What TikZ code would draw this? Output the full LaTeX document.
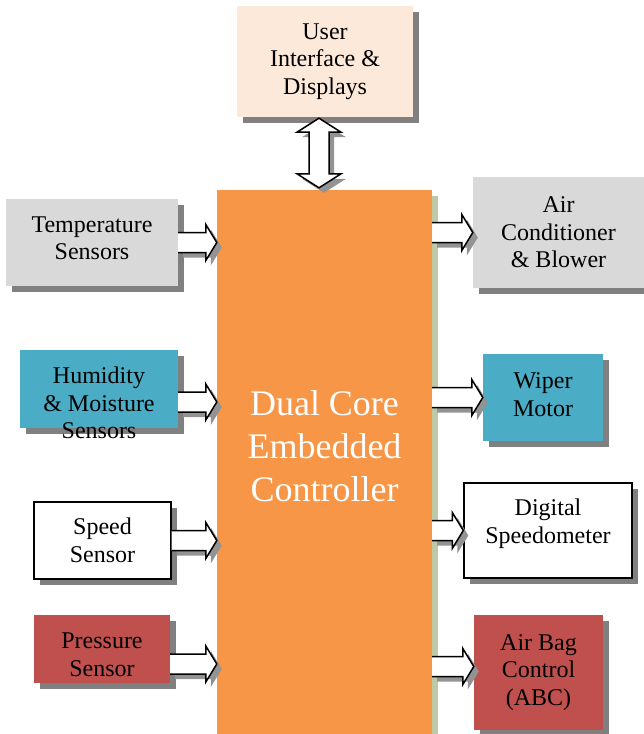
\documentclass[tikz,border=0pt]{standalone}
\usepackage{fontspec}
\setmainfont{Liberation Serif}
\newfontfamily\termsfont{Liberation Serif}
\usetikzlibrary{calc}
\definecolor{peach}{RGB}{253,233,217}
\definecolor{silver}{RGB}{217,217,217}
\definecolor{aqua}{RGB}{75,172,198}
\definecolor{rust}{RGB}{192,80,77}
\definecolor{tangerine}{RGB}{247,150,70}
\definecolor{sage}{RGB}{190,202,165}
\definecolor{shade}{RGB}{128,128,128}
\tikzset{
  offshadow/.style={preaction={fill=#1,transform canvas={shift={(5.5pt,-6pt)}}}},
  offshadow/.default=shade,
  blk/.style={fill=#1,inner sep=0pt,align=center,
    font=\termsfont\fontsize{24}{27.5}\selectfont,offshadow},
  blk/.default=white,
  outlined/.style={draw=black,line width=1.4pt},
  blktext/.style={align=center,font=\termsfont\fontsize{24}{27.5}\selectfont},
  % hollow block arrows, tip takes its height from the start point
  fat/.style={draw=black,line width=1.5pt,fill=white,
    preaction={fill=shade!85,transform canvas={shift={(5pt,-5pt)}}},
    to path={let \p1=(\tikztostart), \p2=(\tikztotarget) in
      (\x1,\y1+10pt) -- (\x2-11pt,\y1+10pt) -- (\x2-11pt,\y1+18pt) -- (\x2,\y1)
      -- (\x2-11pt,\y1-18pt) -- (\x2-11pt,\y1-10pt) -- (\x1,\y1-10pt)}},
  fatboth/.style={draw=black,line width=1.5pt,fill=white,
    preaction={fill=shade!85,transform canvas={shift={(5pt,-5pt)}}},
    to path={let \p1=(\tikztostart), \p2=(\tikztotarget) in
      (\x1,\y1) -- (\x1+22pt,\y1-14pt) -- (\x1+10pt,\y1-14pt) -- (\x1+10pt,\y2+14pt)
      -- (\x1+22pt,\y2+14pt) -- (\x1,\y2) -- (\x1-22pt,\y2+14pt) -- (\x1-10pt,\y2+14pt)
      -- (\x1-10pt,\y1-14pt) -- (\x1-22pt,\y1-14pt) -- cycle}},
}

\begin{document}
\begin{tikzpicture}[x=1pt,y=1pt]
  \useasboundingbox (0,0) rectangle (644,-734);
  % controller in the middle
  \node[fill=tangerine,inner sep=0pt,minimum width=215pt,minimum height=550pt,
    offshadow=sage] (ctrl) at (324.5,-465) {};
  \node[font=\termsfont\fontsize{36}{43}\selectfont,text=white,align=center] (ctrltext) at ([yshift=19pt]ctrl.center) {Dual Core\\Embedded\\Controller};
  \node[blk=peach,minimum width=176pt,minimum height=111pt] (ui) at (325,-61.5) {User\\Interface \&\\Displays};
  % inputs
  \node[blk=silver,minimum width=172pt,minimum height=87pt,
    label={[blktext,yshift=4pt]center:Temperature\\Sensors}] (temp) at (92,-242.5) {};
  \node[blk=aqua,minimum width=158pt,minimum height=78pt,
    label={[blktext,yshift=-14pt]center:Humidity\\\& Moisture\\Sensors}] (hum) at (99,-389) {};
  \node[blk,outlined,minimum width=137pt,minimum height=77pt] (speed) at (102.5,-540.5) {Speed\\Sensor};
  \node[blk=rust,minimum width=136pt,minimum height=68pt,
    label={[blktext,yshift=-6pt]center:Pressure\\Sensor}] (press) at (102,-649) {};
  % outputs
  \node[blk=silver,minimum width=171pt,minimum height=111pt] (aircon) at (558.5,-232.5) {Air\\Conditioner\\\& Blower};
  \node[blk=aqua,minimum width=120pt,minimum height=87pt,
    label={[blktext,yshift=3pt]center:Wiper\\Motor}] (wiper) at (543,-397.5) {};
  \node[blk,outlined,minimum width=168pt,minimum height=95pt,
    label={[blktext,yshift=7pt]center:Digital\\Speedometer}] (speedo) at (548,-530.5) {};
  \node[blk=rust,minimum width=129pt,minimum height=115pt] (airbag) at (538.5,-672.5) {Air Bag\\Control\\(ABC)};

  \draw[fatboth] ([shift={(-6pt,-1pt)}]ui.south) to ([yshift=2pt]ctrl.north);
  \draw[fat] (temp.east) to (ctrl.west);
  \draw[fat] ([yshift=-13pt]hum.east) to (ctrl.west);
  \draw[fat] (speed.east) to (ctrl.west);
  \draw[fat] ([yshift=-15pt]press.east) to (ctrl.west);
  \draw[fat] (ctrl.east |- aircon.west) to (aircon.west);
  \draw[fat] (ctrl.east |- wiper.west) to (wiper.west);
  \draw[fat] (ctrl.east |- speedo.west) to (speedo.west);
  \draw[fat] ($(ctrl.east |- airbag.west)+(0,6)$) to (airbag.west);
\end{tikzpicture}
\end{document}
